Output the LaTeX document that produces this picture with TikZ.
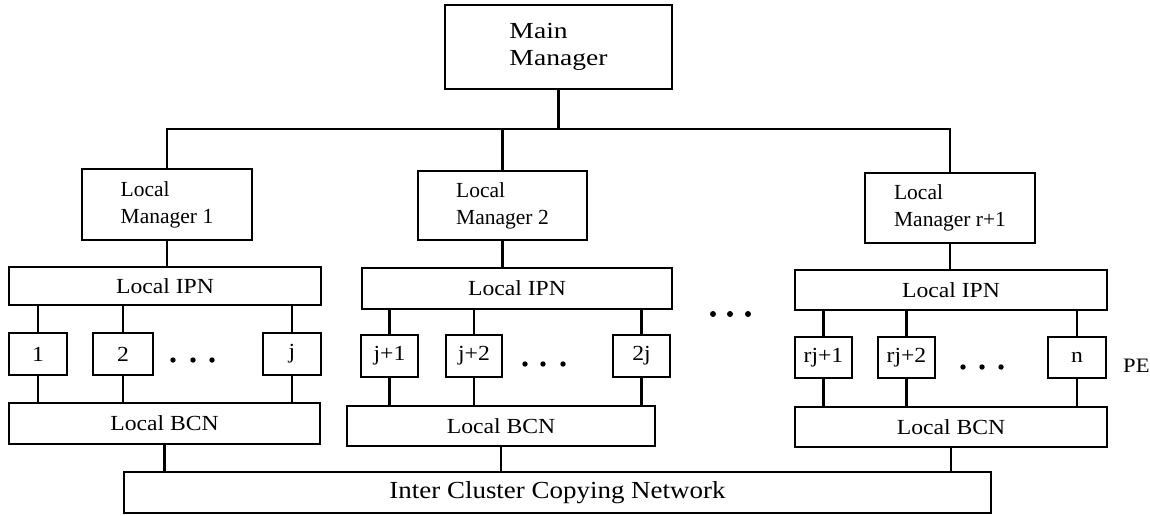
\documentclass[tikz,border=0pt]{standalone}
\usepackage{fontspec}
\setmainfont{Liberation Serif}
\newfontfamily\mmfont[FakeStretch=1.2]{Liberation Serif}
\newfontfamily\netfont[FakeStretch=1.1]{Liberation Serif}
\begin{document}
\begin{tikzpicture}[x=1pt,y=-1pt,
  box/.style={draw, line width=2.1pt, inner sep=0pt},
  mgr/.style={box, align=left, font=\fontsize{21.5}{27}\selectfont},
  net/.style={box, minimum height=40pt, font=\netfont\fontsize{21.5}{25}\selectfont},
  pebox/.style={box, minimum height=42pt, font=\netfont\fontsize{21.5}{25}\selectfont},
  wire/.style={line width=2.1pt},
  dot/.style={fill=black}]
\useasboundingbox (0,0) rectangle (1150,515);
% managers
\node[box, minimum width=227pt, minimum height=84pt, align=left,
      font=\mmfont\fontsize{23}{27}\selectfont] (MM) at (558.5,47) {Main\\Manager};
\node[mgr, minimum width=170pt, minimum height=71pt] (LM1) at (167,204.5) {Local\\Manager 1};
\node[mgr, minimum width=169pt, minimum height=69pt] (LM2) at (502.5,205.5) {Local\\Manager 2};
\node[mgr, minimum width=170pt, minimum height=70pt] (LM3) at (950,208) {Local\\Manager r+1};
% IPNs
\node[net, minimum width=312pt, minimum height=38pt] (IPN1) at (165,286) {Local IPN};
\node[net, minimum width=310pt, minimum height=41pt] (IPN2) at (517,288.5) {Local IPN};
\node[net, minimum width=312pt] (IPN3) at (951,290) {Local IPN};
% PEs
\node[pebox, minimum width=58pt] (P1) at (38,354) {1};
\node[pebox, minimum width=60pt] (P2) at (123,354) {2};
\node[pebox, minimum width=58pt] (Pj) at (292,354) {j};
\node[pebox, minimum width=57pt] (Pj1) at (389.5,356) {j+1};
\node[pebox, minimum width=56pt] (Pj2) at (474,356) {j+2};
\node[pebox, minimum width=57pt] (P2j) at (641.5,356) {2j};
\node[pebox, minimum width=57pt, minimum height=41pt] (Prj1) at (823.5,357.5) {rj+1};
\node[pebox, minimum width=57pt, minimum height=41pt] (Prj2) at (906.5,357.5) {rj+2};
\node[pebox, minimum width=58pt, minimum height=41pt] (Pn) at (1077,357.5) {n};
\node[anchor=base west, inner sep=0pt, font=\netfont\fontsize{20.5}{24}\selectfont] (PE) at (1123,372) {PE};
% BCNs
\node[net, minimum width=311pt, minimum height=41pt] (BCN1) at (164.5,423.5) {Local BCN};
\node[net, minimum width=308pt] (BCN2) at (501,426) {Local BCN};
\node[net, minimum width=312pt] (BCN3) at (951,427) {Local BCN};
% ICCN
\node[box, minimum width=867pt, minimum height=41pt,
      font=\netfont\fontsize{24.5}{28}\selectfont] (ICCN) at (557.5,492.5) {Inter Cluster Copying Network};
% tree wires
\coordinate (bus) at (558.5,129);
\draw[wire] (MM.south) -- (bus);
\draw[wire] (LM1.north) |- (bus) -| (LM3.north);
\draw[wire] (LM2.north) -- (LM2.north |- bus);
\foreach \i in {1,2,3}{
  \draw[wire] (LM\i.south) -- (LM\i.south |- IPN\i.north);
  \draw[wire] (BCN\i.south) -- (BCN\i.south |- ICCN.north);
}
\foreach \p/\c in {P1/1,P2/1,Pj/1,Pj1/2,Pj2/2,P2j/2,Prj1/3,Prj2/3,Pn/3}{
  \draw[wire] (\p.north) -- (\p.north |- IPN\c.south);
  \draw[wire] (\p.south) -- (\p.south |- BCN\c.north);
}
% ellipses
\foreach \x in {173,193,212} \fill[dot] (\x,360) circle (2.7pt);
\foreach \x in {525,543,563} \fill[dot] (\x,364) circle (2.7pt);
\foreach \x in {963,982,1001} \fill[dot] (\x,367) circle (2.7pt);
\foreach \x in {713,730,748} \fill[dot] (\x,314) circle (3pt);
\end{tikzpicture}
\end{document}
